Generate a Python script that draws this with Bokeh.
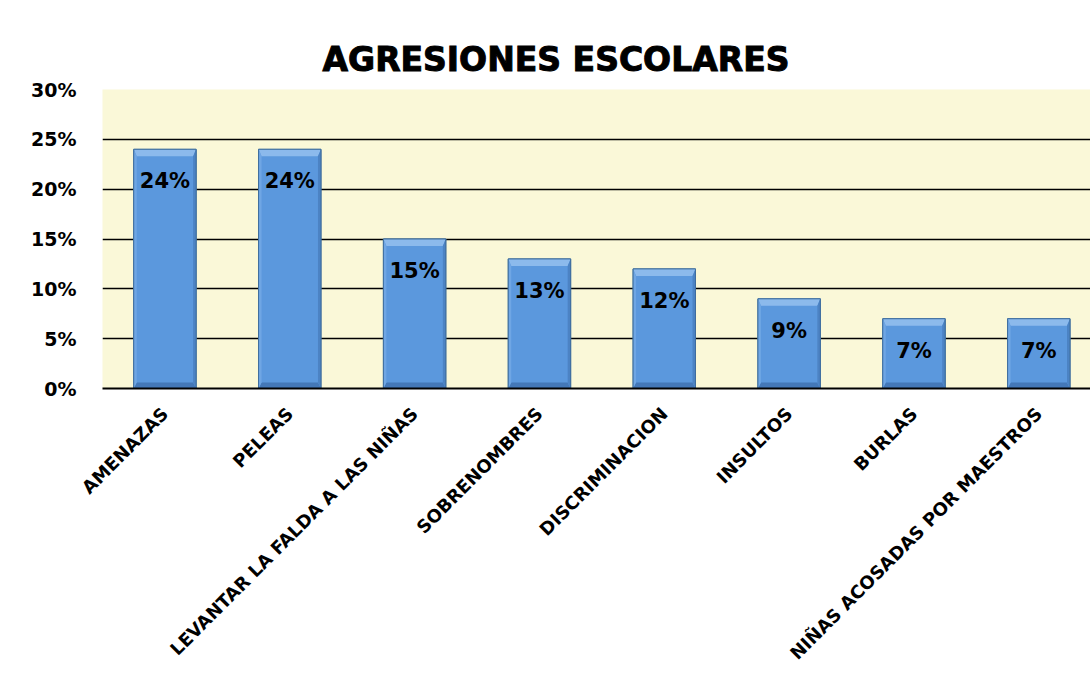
from bokeh.plotting import figure
from bokeh.models import ColumnDataSource, FixedTicker, NumeralTickFormatter, Range1d, Title
from bokeh.embed import file_html
from bokeh.resources import INLINE

categories = ["AMENAZAS", "PELEAS", "LEVANTAR LA FALDA A LAS NIÑAS", "SOBRENOMBRES",
              "DISCRIMINACION", "INSULTOS", "BURLAS", "NIÑAS ACOSADAS POR MAESTROS"]
values = [0.24, 0.24, 0.15, 0.13, 0.12, 0.09, 0.07, 0.07]
value_labels = ["24%", "24%", "15%", "13%", "12%", "9%", "7%", "7%"]
y_ticks = [0.0, 0.05, 0.10, 0.15, 0.20, 0.25, 0.30]

FONT = "DejaVu Sans"
xs = list(range(len(categories)))

p = figure(width=1090, height=699, output_backend="svg", toolbar_location=None,
           x_range=Range1d(-0.5, 7.414), y_range=Range1d(0, 0.30),
           min_border_left=102, min_border_right=0, min_border_top=89, min_border_bottom=311)

p.background_fill_color = "#FAF8D8"
p.border_fill_color = "white"
p.outline_line_color = None

# Title
t = Title(text="AGRESIONES ESCOLARES", align="left", offset=220,
          text_font=FONT, text_font_style="bold", text_font_size="33px",
          text_color="black", standoff=22)
try:
    t.text_outline_color = "black"
except Exception:
    pass
p.add_layout(t, "above")

# bars with bevel
hw = 0.25
ts = 3 / 124.9
tb = 7 / 995
bb = 6 / 995
src = ColumnDataSource(dict(x=xs, top=values, lab=value_labels))
p.vbar(x="x", top="top", bottom=0, width=2 * hw, source=src,
       fill_color="#5B98DD", line_color="#41719C", line_width=1)

top_x, top_y, bot_x, bot_y, lft_x, lft_y, rgt_x, rgt_y = [], [], [], [], [], [], [], []
for i, v in zip(xs, values):
    l, r = i - hw, i + hw
    top_x.append([l, r, r - ts, l + ts]); top_y.append([v, v, v - tb, v - tb])
    bot_x.append([l, r, r - ts, l + ts]); bot_y.append([0, 0, bb, bb])
    lft_x.append([l, l, l + ts, l + ts]); lft_y.append([0, v, v - tb, bb])
    rgt_x.append([r, r, r - ts, r - ts]); rgt_y.append([0, v, v - tb, bb])
p.patches(top_x, top_y, fill_color="#8CBAEC", line_color=None)
p.patches(bot_x, bot_y, fill_color="#4478B8", line_color=None)
p.patches(lft_x, lft_y, fill_color="#6FA6E4", line_color=None)
p.patches(rgt_x, rgt_y, fill_color="#4C83C4", line_color=None)
p.vbar(x="x", top="top", bottom=0, width=2 * hw, source=src,
       fill_color=None, line_color="#3F6E9E", line_width=1)

p.text(x="x", y="top", text="lab", source=src, text_align="center", text_baseline="top",
       y_offset=20, text_font_size="21px", text_font_style="bold", text_color="black",
       text_font={"value": FONT})

# axes
p.xaxis.ticker = FixedTicker(ticks=xs)
p.xaxis.major_label_overrides = {i: c for i, c in zip(xs, categories)}
p.xaxis.major_label_orientation = 0.7853981633974483
p.xaxis.major_label_text_font = FONT
p.xaxis.major_label_text_font_style = "bold"
p.xaxis.major_label_text_font_size = "18px"
p.xaxis.major_label_text_color = "black"
p.xaxis.axis_line_color = "black"
p.xaxis.axis_line_width = 2
p.xaxis.major_tick_line_color = None
p.xaxis.minor_tick_line_color = None
p.xaxis.major_label_standoff = 16

p.yaxis.ticker = FixedTicker(ticks=y_ticks)
p.yaxis.formatter = NumeralTickFormatter(format="0%")
p.yaxis.major_label_text_font = FONT
p.yaxis.major_label_text_font_style = "bold"
p.yaxis.major_label_text_font_size = "19px"
p.yaxis.major_label_text_color = "black"
p.yaxis.axis_line_color = None
p.yaxis.major_tick_line_color = None
p.yaxis.minor_tick_line_color = None
p.yaxis.major_label_standoff = 20

p.xgrid.grid_line_color = None
p.ygrid.grid_line_color = "black"
p.ygrid.grid_line_width = 1.5

open("out.html", "w").write(file_html(p, INLINE))
